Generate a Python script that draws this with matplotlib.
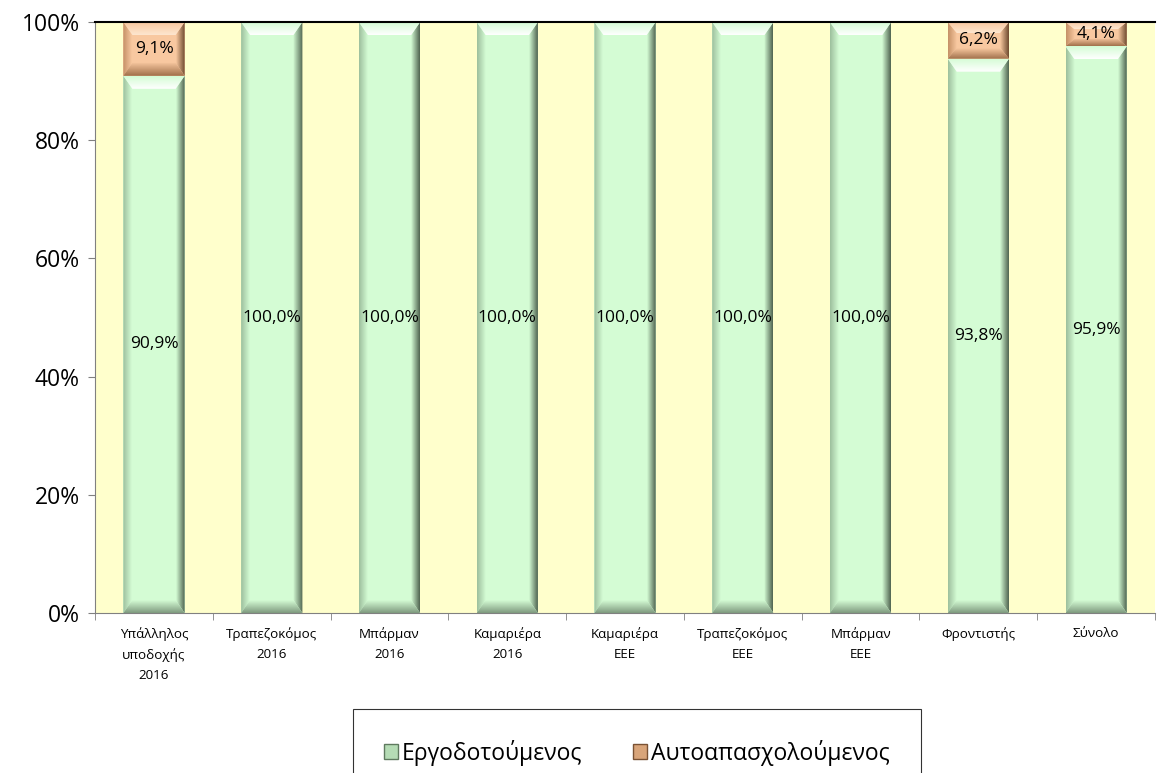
import numpy as np
import matplotlib
matplotlib.use('Agg')
import matplotlib.pyplot as plt
from matplotlib.patches import Polygon, Rectangle
from matplotlib.ticker import FuncFormatter, FixedLocator

plt.rcParams['font.family'] = ['Open Sans', 'DejaVu Sans']

categories = ['Υπάλληλος\nυποδοχής\n2016', 'Τραπεζοκόμος\n2016', 'Μπάρμαν\n2016',
              'Καμαριέρα\n2016', 'Καμαριέρα\nΕΕΕ', 'Τραπεζοκόμος\nΕΕΕ',
              'Μπάρμαν\nΕΕΕ', 'Φροντιστής', 'Σύνολο']
employed = [90.9, 100.0, 100.0, 100.0, 100.0, 100.0, 100.0, 93.8, 95.9]
self_employed = [9.1, 0.0, 0.0, 0.0, 0.0, 0.0, 0.0, 6.2, 4.1]
series_names = ['Εργοδοτούμενος', 'Αυτοαπασχολούμενος']

# face, side-light, side-dark, highlight
green = dict(face='#d4fcd4', left='#9dbf9d', right='#4f634f', top='#ffffff', bottom='#7f9a7f')
orange = dict(face='#f8c8a0', left='#c49066', right='#6e4a2e', top='#fde6cf', bottom='#a0704a')

fig = plt.figure(figsize=(11.6, 7.73), dpi=100)
ax = fig.add_axes([0.082, 0.207, 0.9137, 0.7645])
ax.set_facecolor('#ffffcc')
n = len(categories)
ax.set_xlim(-0.5, n - 0.5)
ax.set_ylim(0, 100)

fig.canvas.draw()
bb = ax.get_window_extent()
px_x = n / bb.width
px_y = 100.0 / bb.height
bw = 0.52


def grad_poly(pts, c_out, c_in, direction, zorder):
    poly = Polygon(pts, closed=True, facecolor='none', edgecolor='none', zorder=zorder)
    ax.add_patch(poly)
    xs = [p[0] for p in pts]
    ys = [p[1] for p in pts]
    c1 = np.array(matplotlib.colors.to_rgb(c_out))
    c2 = np.array(matplotlib.colors.to_rgb(c_in))
    t = np.linspace(0, 1, 64)
    g = c1[None, :] * (1 - t[:, None]) + c2[None, :] * t[:, None]
    if direction == 'left':      # outer at left
        img = g[None, :, :]
    elif direction == 'right':
        img = g[::-1][None, :, :]
    elif direction == 'top':     # outer at top
        img = g[::-1][:, None, :]
    else:
        img = g[:, None, :]
    im = ax.imshow(img, extent=[min(xs), max(xs), min(ys), max(ys)], origin='lower',
                   aspect='auto', zorder=zorder, interpolation='bilinear')
    im.set_clip_path(poly)


def bevel_bar(xc, y0, h, pal):
    if h <= 0:
        return
    x0, x1 = xc - bw / 2, xc + bw / 2
    y1 = y0 + h
    bx = 9 * px_x
    by = min(13 * px_y, h * 0.3)
    ax.add_patch(Rectangle((x0, y0), bw, h, facecolor=pal['face'], edgecolor='none', zorder=2))
    grad_poly([(x0, y1), (x0, y0), (x0 + bx, y0 + by), (x0 + bx, y1 - by)],
              pal['left'], pal['face'], 'left', 3)
    grad_poly([(x1, y1), (x1, y0), (x1 - bx, y0 + by), (x1 - bx, y1 - by)],
              pal['right'], pal['face'], 'right', 3)
    grad_poly([(x0, y1), (x1, y1), (x1 - bx, y1 - by), (x0 + bx, y1 - by)],
              pal['face'], pal['top'], 'top', 4)
    grad_poly([(x0, y0), (x1, y0), (x1 - bx, y0 + by), (x0 + bx, y0 + by)],
              pal['bottom'], pal['face'], 'bottom', 4)


x = np.arange(n)
for i in range(n):
    bevel_bar(x[i], 0, employed[i], green)
    bevel_bar(x[i], employed[i], self_employed[i], orange)
    ax.text(x[i], employed[i] / 2, f'{employed[i]:.1f}%'.replace('.', ','),
            ha='center', va='center', fontsize=12.5, zorder=6)
    if self_employed[i] > 0:
        ax.text(x[i], employed[i] + self_employed[i] / 2,
                f'{self_employed[i]:.1f}%'.replace('.', ','),
                ha='center', va='center', fontsize=12.5, zorder=6)

ax.set_yticks([0, 20, 40, 60, 80, 100])
ax.yaxis.set_major_formatter(FuncFormatter(lambda v, p: f'{v:.0f}%'))
ax.tick_params(axis='y', labelsize=16.5, length=5, color='#808080', direction='out', pad=6)
ax.set_xticks(x)
ax.set_xticklabels(categories, fontsize=9.6, linespacing=1.7)
ax.tick_params(axis='x', which='major', length=0, pad=10)
ax.xaxis.set_minor_locator(FixedLocator(np.arange(-0.5, n, 1.0)))
ax.tick_params(axis='x', which='minor', length=5, color='#808080', direction='out')

ax.spines['top'].set_color('black')
ax.spines['top'].set_linewidth(1.5)
ax.spines['right'].set_visible(False)
ax.spines['left'].set_color('#808080')
ax.spines['bottom'].set_color('#808080')
for s in ax.spines.values():
    s.set_zorder(7)

handles = [Rectangle((0, 0), 1, 1, facecolor='#b5dcb5', edgecolor='#5f7a5f'),
           Rectangle((0, 0), 1, 1, facecolor='#d9a57a', edgecolor='#7a5234')]
leg = fig.legend(handles, series_names, loc='upper center', bbox_to_anchor=(0.549, 0.083),
                 ncol=2, fontsize=16.5, frameon=True, fancybox=False, edgecolor='black',
                 handlelength=0.6, handleheight=0.6, handletextpad=0.2, columnspacing=2.2,
                 borderpad=1.35, borderaxespad=0)
leg.get_frame().set_linewidth(0.8)

fig.savefig('out.png', dpi=100)
